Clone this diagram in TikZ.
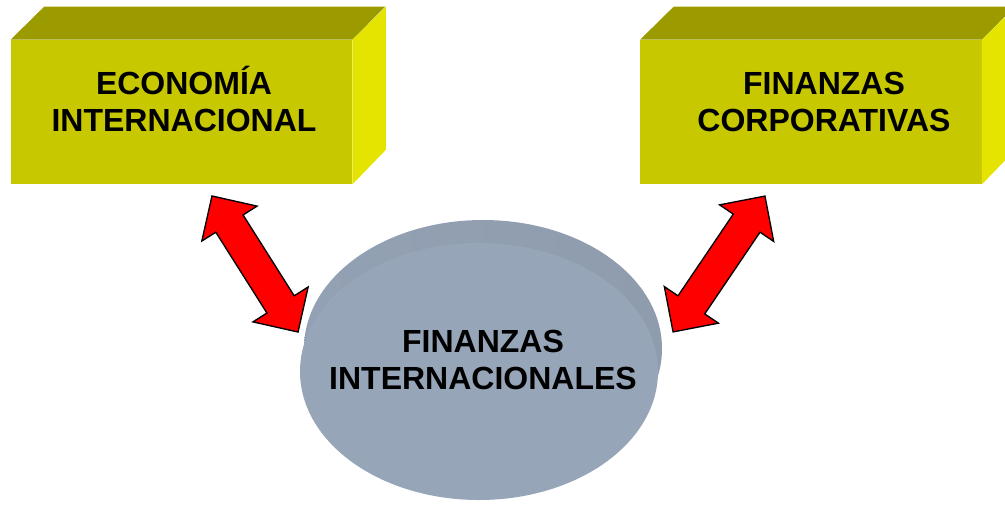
\documentclass[tikz,border=0pt]{standalone}
\usepackage{fontspec}
\setmainfont{Liberation Sans}
\usetikzlibrary{shapes.geometric,shapes.arrows}
\definecolor{boxfront}{HTML}{C8C800}
\definecolor{boxtop}{HTML}{9B9B00}
\definecolor{boxside}{HTML}{E4E400}
\definecolor{diskface}{HTML}{97A5B8}
\definecolor{rimlight}{HTML}{93A1B4}
\definecolor{rimdark}{HTML}{788594}
\definecolor{rimright}{HTML}{8F9CAD}
\tikzset{
  front/.style={rectangle, fill=boxfront, inner sep=0pt, minimum width=256pt, minimum height=108pt},
  blocklabel/.style={font=\bfseries\fontsize{24}{27.75}\selectfont, align=center, inner sep=0pt},
  duoarrow/.style={double arrow, draw=black, fill=red, line width=1pt, sloped,
    inner xsep=0pt, inner ysep=11.6pt, double arrow head extend=12.4pt,
    double arrow tip angle=90, minimum height=#1}
}
\begin{document}
\begin{tikzpicture}[x=0.75pt,y=0.75pt]
\useasboundingbox (0,0) rectangle (1005,-504);
\clip (0,0) rectangle (1005,-504);
% left block
\node [front] (econ) at (181.5,-112) {};
\fill [boxtop] (econ.north west) -- ++(33.5,33) -- ++(341,0) -- (econ.north east) -- cycle;
\fill [boxside] (econ.north east) -- ++(33.5,33) -- ++(0,-143) -- (econ.south east) -- cycle;
\node [blocklabel] (econtext) at (184,-99) {ECONOMÍA\\INTERNACIONAL};
% right block
\node [front] (corp) at (811,-112) {};
\fill [boxtop] (corp.north west) -- ++(33.5,33) -- ++(341,0) -- (corp.north east) -- cycle;
\fill [boxside] (corp.north east) -- ++(33.5,33) -- ++(0,-143) -- (corp.south east) -- cycle;
\node [blocklabel] (corptext) at (824,-102) {FINANZAS\\CORPORATIVAS};
% disk
\shade [left color=rimlight, middle color=rimdark, right color=rimright] (483,-348.5) ellipse [x radius=179, y radius=128.5];
\node [ellipse, fill=diskface, inner sep=0pt, minimum width=268.5pt, minimum height=192.75pt] (disk) at (479,-371.5) {};
\node [blocklabel] (disktext) at (483,-360) {FINANZAS\\INTERNACIONALES};
% arrows
\coordinate (econend) at (212,-196);
\coordinate (diskwest) at (298,-332);
\coordinate (corpend) at (765,-196);
\coordinate (diskeast) at (673,-332);
\path (econend) -- node [duoarrow=120.75pt] (leftlink) {} (diskwest);
\path (corpend) -- node [duoarrow=123pt] (rightlink) {} (diskeast);
\end{tikzpicture}
\end{document}
